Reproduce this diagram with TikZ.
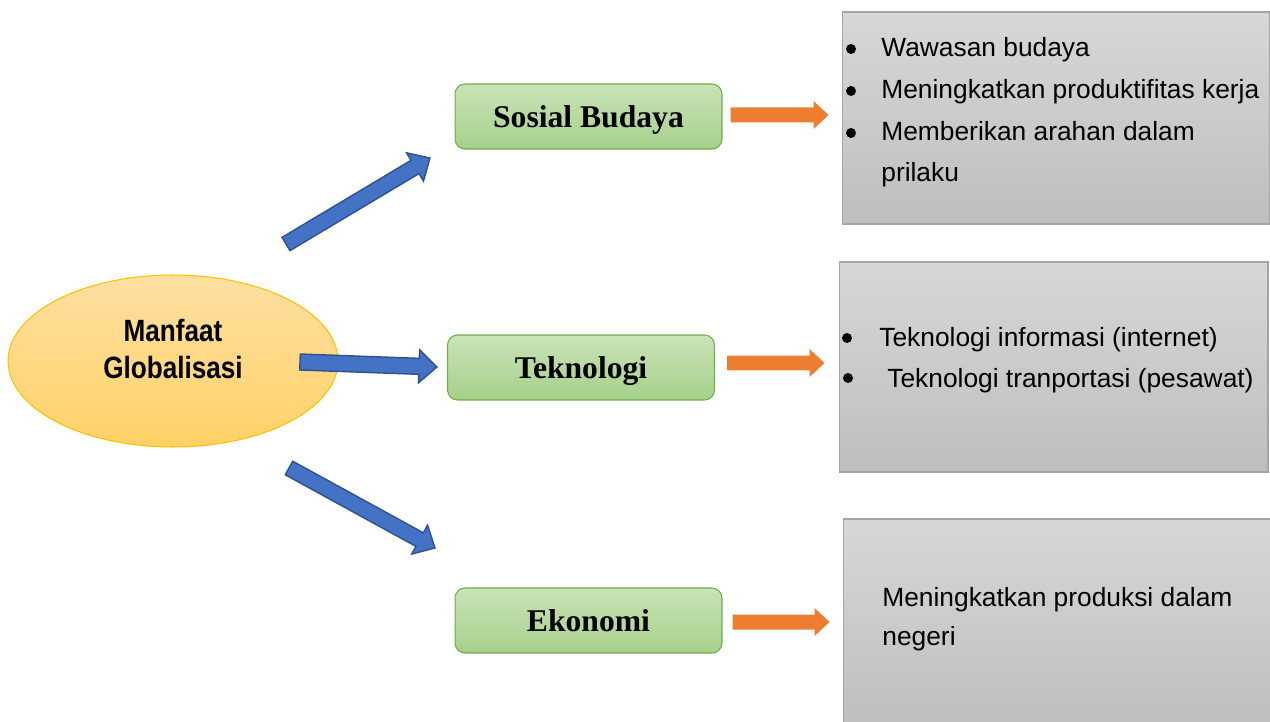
\documentclass[tikz,border=0pt]{standalone}
\usepackage{fontspec}
\setmainfont{Liberation Sans}
\newfontfamily\narrowsans[FakeStretch=0.85]{Liberation Sans}
\newfontfamily\timesfont{Liberation Serif}
\usetikzlibrary{calc,shapes.geometric}
\definecolor{ideaTop}{HTML}{FFE0A3}
\definecolor{ideaBot}{HTML}{FFD166}
\definecolor{ideaLine}{HTML}{FFC000}
\definecolor{greenTop}{HTML}{C9E3B8}
\definecolor{greenBot}{HTML}{A6D08A}
\definecolor{greenLine}{HTML}{70AD47}
\definecolor{grayTop}{HTML}{D7D7D7}
\definecolor{grayBot}{HTML}{BEBEBE}
\definecolor{grayLine}{HTML}{A5A5A5}
\definecolor{arrowBlue}{HTML}{4472C4}
\definecolor{arrowBlueLine}{HTML}{2F528F}
\definecolor{arrowOrange}{HTML}{ED7D31}
\def\blockarrow[#1](#2)(#3)(#4:#5:#6){\coordinate (ba-h) at ($(#3)!#6!(#2)$);
	\filldraw[#1] ($(#2)!#4!90:(#3)$) -- ($(ba-h)!#4!-90:(#2)$) -- ($(ba-h)!#5!-90:(#2)$) -- (#3) -- ($(ba-h)!#5!90:(#2)$) -- ($(ba-h)!#4!90:(#2)$) -- ($(#2)!#4!-90:(#3)$) -- cycle;}
\tikzset{
	idea/.style={ellipse, draw=ideaLine, line width=0.6pt, top color=ideaTop, bottom color=ideaBot, minimum width=6.6cm, minimum height=3.44cm, inner sep=0pt},
	judul/.style={align=center, inner sep=0pt, font=\narrowsans\bfseries\fontsize{17.5}{21}\selectfont},
	aspek/.style={rectangle, rounded corners=2mm, draw=greenLine, line width=0.6pt, top color=greenTop, bottom color=greenBot, minimum width=5.34cm, minimum height=1.3cm, inner sep=0pt, text height=13pt, text depth=0pt, font=\timesfont\bfseries\fontsize{18}{22}\selectfont},
	ket/.style={rectangle, draw=grayLine, line width=0.6pt, top color=grayTop, bottom color=grayBot, minimum width=8.56cm, minimum height=4.24cm, inner sep=0pt},
	isi/.style={anchor=base west, inner sep=0pt, font=\fontsize{15}{18}\selectfont},
	biru/.style={fill=arrowBlue, draw=arrowBlueLine, line width=0.8pt, line join=miter},
	oranye/.style={fill=arrowOrange, draw=none}
}
\begin{document}
\begin{tikzpicture}[x=0.02cm, y=-0.02cm]
			%%%%% START %%%%%
			\useasboundingbox (0,0) rectangle (1270,722);
			
			\node[idea] (manfaat) at (173,361) {};
			\node[judul] (judul) at (173,349) {Manfaat\\Globalisasi};
			
			\node[aspek] (sosial) at (588.5,116.5) {Sosial Budaya};
			\node[aspek] (teknologi) at (581,367.5) {Teknologi};
			\node[aspek] (ekonomi) at (588.5,620.5) {Ekonomi};
			
			\node[ket] (info1) at (1056,118) {};
			\node[ket, minimum width=8.58cm, minimum height=4.2cm] (info2) at (1053.5,367) {};
			\node[ket, minimum width=8.6cm] (info3) at (1058,625) {};
			
			% blue arrows
			\coordinate (b1a) at (286,244);
			\coordinate (b1b) at (430,158);
			\coordinate (b2a) at (300,362);
			\coordinate (b2b) at (437,367);
			\coordinate (b3a) at (289,468);
			\coordinate (b3b) at (435,548);
			\blockarrow[biru](b1a)(b1b)(1.55mm:3.3mm:3.5mm)
			\blockarrow[biru](b2a)(b2b)(1.6mm:3.3mm:3.6mm)
			\blockarrow[biru](b3a)(b3b)(1.55mm:3.3mm:3.5mm)
			
			% orange arrows
			\coordinate (o1a) at ($(sosial.east)+(8,-1.5)$);
			\coordinate (o1b) at ($(info1.west |- o1a)+(-13,0)$);
			\coordinate (o2a) at ($(teknologi.east)+(12,-4.5)$);
			\coordinate (o2b) at ($(info2.west |- o2a)+(-14,0)$);
			\coordinate (o3a) at ($(ekonomi.east)+(10,1.5)$);
			\coordinate (o3b) at ($(info3.west |- o3a)+(-13,0)$);
			\blockarrow[oranye](o1a)(o1b)(1.5mm:2.8mm:3mm)
			\blockarrow[oranye](o2a)(o2b)(1.5mm:2.8mm:3mm)
			\blockarrow[oranye](o3a)(o3b)(1.5mm:2.8mm:3mm)
			
			% texts in the grey boxes
			\fill (851,49) circle (1mm);
			\fill (851,91) circle (1mm);
			\fill (851,133) circle (1mm);
			\node[isi] (wawasan) at (881,57) {Wawasan budaya};
			\node[isi] (produktif) at (881,99) {Meningkatkan produktifitas kerja};
			\node[isi] (arahan) at (881,141) {Memberikan arahan dalam};
			\node[isi] (prilaku) at (881,182) {prilaku};
			
			\fill (847,338) circle (1mm);
			\fill (848,378) circle (1mm);
			\node[isi] (internet) at (879,347) {Teknologi informasi (internet)};
			\node[isi] (pesawat) at (887,388) {Teknologi tranportasi (pesawat)};
			
			\node[isi] (produksi) at (882,606) {Meningkatkan produksi dalam};
			\node[isi] (negeri) at (882,645) {negeri};
			%%%%% END %%%%%
\end{tikzpicture}
\end{document}
